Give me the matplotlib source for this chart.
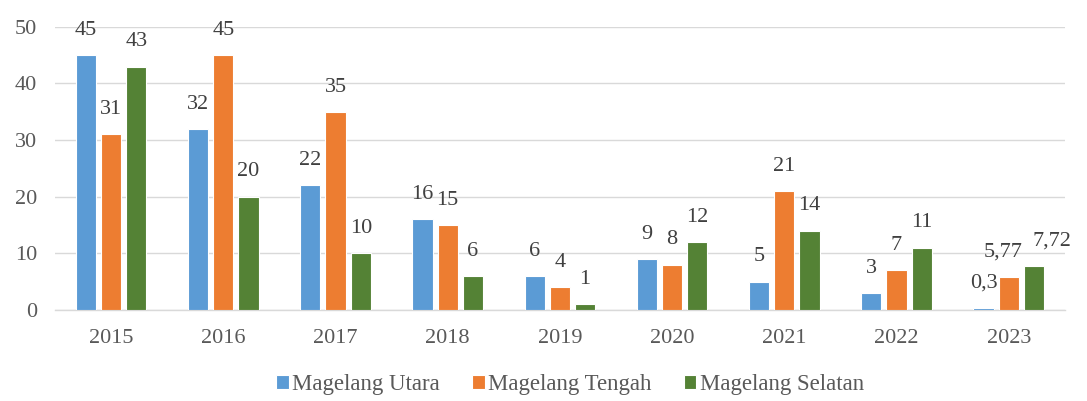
import numpy as np
import matplotlib
matplotlib.use('Agg')
import matplotlib.pyplot as plt

plt.rcParams['font.family'] = ['Liberation Serif', 'DejaVu Serif']

years = ['2015', '2016', '2017', '2018', '2019', '2020', '2021', '2022', '2023']
utara = [45, 32, 22, 16, 6, 9, 5, 3, 0.3]
tengah = [31, 45, 35, 15, 4, 8, 21, 7, 5.77]
selatan = [43, 20, 10, 6, 1, 12, 14, 11, 7.72]

series = [
    ('Magelang Utara', utara, '#5B9BD5'),
    ('Magelang Tengah', tengah, '#ED7D31'),
    ('Magelang Selatan', selatan, '#548235'),
]

def fmt(v):
    s = f"{v:g}"
    return s.replace('.', ',')

fig = plt.figure(figsize=(10.87, 4.01), dpi=100)
ax = fig.add_axes([0.0506, 0.227, 0.929, 0.706])

fs = 16
x = np.arange(len(years))
w = 0.18
step = 0.225
for i, (name, vals, col) in enumerate(series):
    pos = x + (i - 1) * step
    bars = ax.bar(pos, vals, w, color=col, edgecolor='white', linewidth=0.8,
                  label=name, zorder=3)
    for j, (b, v) in enumerate(zip(bars, vals)):
        dx, ha = 0, 'center'
        # last group: labels are crowded, nudge them apart like the original
        if j == len(vals) - 1 and i == 1:
            dx = -4
        if j == len(vals) - 1 and i == 2:
            dx, ha = -1, 'left'
        ax.annotate(fmt(v), (b.get_x() + b.get_width() / 2, b.get_height()),
                    xytext=(dx, 11), textcoords='offset points',
                    ha=ha, va='bottom', fontsize=fs, color='#404040',
                    annotation_clip=False)

ax.set_xlim(-0.5, len(years) - 0.5)
ax.set_ylim(0, 50)
ax.set_yticks(range(0, 51, 10))
ax.set_xticks(x)
ax.set_xticklabels(years)
ax.grid(axis='y', color='#D9D9D9', linewidth=1, zorder=0)
for s in ['top', 'right', 'left']:
    ax.spines[s].set_visible(False)
ax.spines['bottom'].set_color('#D9D9D9')
ax.spines['bottom'].set_linewidth(1)
ax.tick_params(axis='both', length=0, labelsize=fs, colors='#595959')
ax.tick_params(axis='y', pad=13)
ax.tick_params(axis='x', pad=14)

leg = ax.legend(loc='center', bbox_to_anchor=(0.51, -0.265), ncol=3,
                frameon=False, fontsize=16.5, handlelength=0.55, handleheight=0.55,
                handletextpad=0.15, columnspacing=1.4, borderpad=0)
for t in leg.get_texts():
    t.set_color('#595959')

fig.savefig('out.png', dpi=100)
